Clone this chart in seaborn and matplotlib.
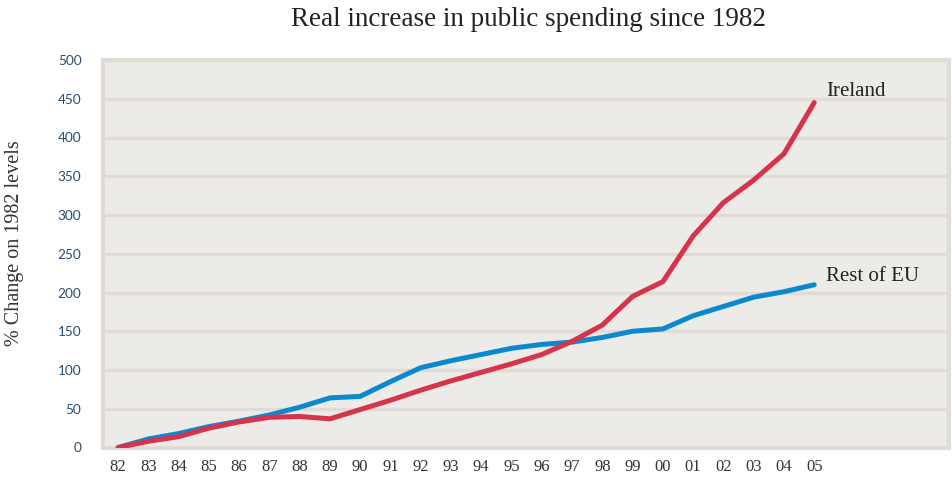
import matplotlib
matplotlib.use("Agg")
import matplotlib.pyplot as plt
import seaborn as sns
import pandas as pd
import numpy as np

years = ["82", "83", "84", "85", "86", "87", "88", "89", "90", "91", "92", "93",
         "94", "95", "96", "97", "98", "99", "00", "01", "02", "03", "04", "05"]
ireland = [0, 8, 14, 25, 33, 39, 40, 37, 49, 61, 74, 86,
           97, 108, 120, 137, 158, 195, 214, 273, 316, 345, 379, 445]
rest_of_eu = [0, 11, 18, 27, 34, 42, 52, 64, 66, 85, 103, 112,
              120, 128, 133, 136, 142, 150, 153, 170, 182, 194, 201, 210]
y_ticks = [0, 50, 100, 150, 200, 250, 300, 350, 400, 450, 500]

series_names = ["Ireland", "Rest of EU"]
palette = {"Ireland": "#d7334b", "Rest of EU": "#0b89cf"}

df = pd.DataFrame({
    "pos": list(range(len(years))) * 2,
    "value": ireland + rest_of_eu,
    "series": [series_names[0]] * len(years) + [series_names[1]] * len(years),
})

sns.set_theme(style="white")
serif = ["Liberation Serif", "DejaVu Serif"]
plt.rcParams["font.family"] = serif

grid_col = "#e0dbd4"
fig = plt.figure(figsize=(9.53, 4.79), dpi=100)
ax = fig.add_axes([103 / 953, 1 - 447.5 / 479, (949.5 - 103) / 953, (447.5 - 60) / 479])
ax.set_facecolor("#edebe7")

sns.lineplot(data=df, x="pos", y="value", hue="series", palette=palette,
             hue_order=["Rest of EU", "Ireland"], linewidth=3.6, legend=False,
             ax=ax, zorder=3)

ax.set_xlim(-0.5, 27.47)
ax.set_ylim(0, 500)

# horizontal grid, extended to the left as tick marks
ax.set_yticks(y_ticks)
ax.set_yticklabels([str(v) for v in y_ticks], color="#2c4d6e", fontsize=9.8,
                   family=["Lato", "DejaVu Sans"])
ax.yaxis.grid(True, color=grid_col, linewidth=2.4, zorder=1)
ax.tick_params(axis="y", length=9.5, width=1.2, color=grid_col, pad=6)

# year labels centred between boundary ticks
ax.set_xticks(range(len(years)))
ax.set_xticklabels(years, color="#333333", fontsize=12)
ax.set_xticks(np.arange(-0.5, len(years), 1.0), minor=True)
ax.tick_params(axis="x", which="major", length=0, pad=8)
ax.tick_params(axis="x", which="minor", length=6.5, width=1.2, color=grid_col)

for s in ax.spines.values():
    s.set_color(grid_col)
    s.set_linewidth(3)

ax.set_xlabel("")
ax.set_ylabel("% Change on 1982 levels", fontsize=14.5, color="#333333")
ax.yaxis.set_label_coords(-(103 - 24) / (949.5 - 103), 0.527)

ax.text(23.4, ireland[-1] + 15, "Ireland", fontsize=15, color="#222222", va="center")
ax.text(23.4, rest_of_eu[-1] + 11, "Rest of EU", fontsize=15, color="#222222", va="center")

fig.text(529 / 953, 1 - 20 / 479, "Real increase in public spending since 1982",
         ha="center", va="center", fontsize=19.5, color="#222222")

fig.savefig("out.png", dpi=100, facecolor="white")
